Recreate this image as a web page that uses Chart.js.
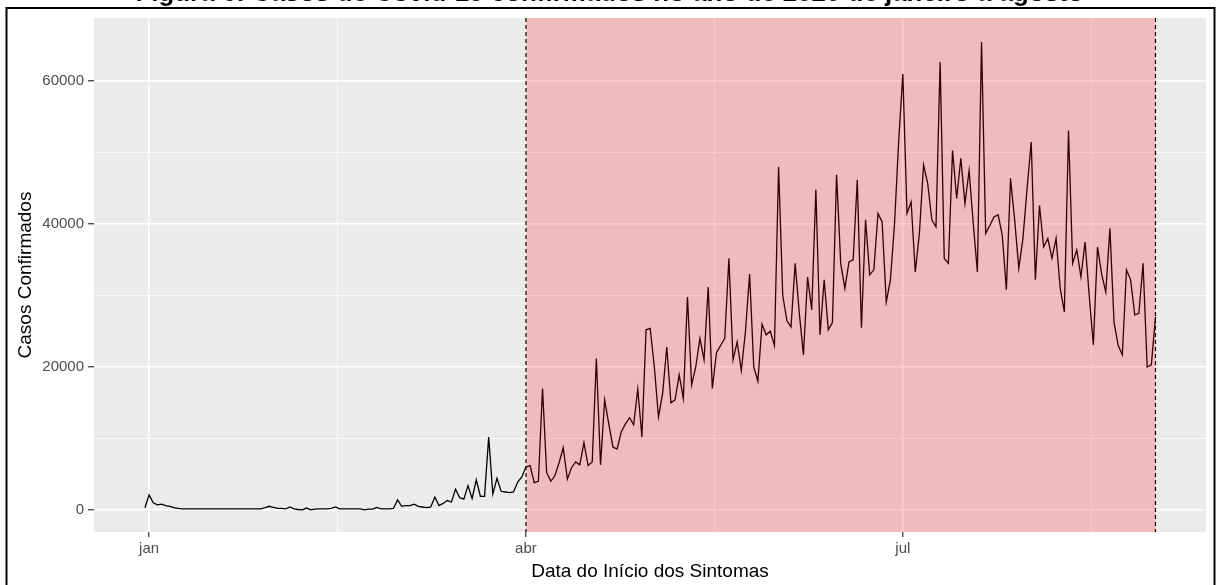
<!DOCTYPE html>
<html>
<head>
<meta charset="utf-8">
<script src="https://cdn.jsdelivr.net/npm/chart.js@4.4.0/dist/chart.umd.min.js"></script>
<style>
  html, body { margin: 0; padding: 0; background: #fff; }
  #wrap { width: 1219px; height: 585px; }
</style>
</head>
<body>
<div id="wrap"><canvas id="myChart" width="1219" height="585"></canvas></div>
<script>
// casos confirmados por dia, de 31 de dezembro de 2019 (dia -1) a 31 de agosto de 2020 (dia 243)
var casosDez = [300];
var casosJan = [2100,1000,700,800,600,500,300,200,150,150,150,150,150,150,150,150,150,150,150,150,150,150,150,150,150,150,150,150,300,500,350];
var casosFev = [200,200,150,400,150,50,0,250,0,100,150,150,150,200,400,150,150,150,150,150,150,0,100,100,350,150,150,150,200];
var casosMar = [1400,500,600,600,800,500,400,300,400,1800,600,900,1300,1100,2900,1700,1500,3400,1600,4200,1900,1900,10200,2200,4400,2600,2500,2400,2500,3900,4600];
var casosAbr = [6000,6200,3800,4000,17000,5200,4000,4800,6600,8700,4300,5900,6700,6300,9400,6200,6700,21200,6300,15400,12000,8800,8500,10900,12000,12900,11900,16900,10200,25200];
var casosMai = [25400,20000,13000,16300,22800,15000,15400,18900,15600,29800,17500,20000,24000,21000,31200,17000,22000,23000,24000,35200,21000,23500,19500,25000,33000,20000,18000,26000,24500,25000,23000];
var casosJun = [48000,30000,26500,25600,34500,27500,21700,32600,28000,44800,24500,32200,25200,26200,46900,34500,31000,34700,35000,46200,25500,40600,32900,33600,41500,40300,29100,32200,40100,51700];
var casosJul = [61000,41500,43100,33300,38700,48300,45700,40600,39600,62700,35200,34500,50300,43600,49200,42900,47500,40100,33300,65500,38700,39800,41000,41300,38500,30800,46400,40600,33800,38000,45000];
var casosAgo = [51500,32200,42600,36800,38000,35200,38000,31000,27700,53100,34500,36400,32600,37500,30000,23100,36800,33000,30500,39400,26200,23000,21700,33600,32200,27300,27500,34500,20000,20300,27000];

var casos = casosDez.concat(casosJan, casosFev, casosMar, casosAbr, casosMai, casosJun, casosJul, casosAgo);
var diaInicial = -1;

// rotulos do eixo x (dia do ano) e periodo destacado
var mesesLabels = ["jan", "abr", "jul"];
var mesesDias = [0, 91, 182];
var mesesMenores = [45.5, 136.5, 227.5];
var periodo = [91, 243];
var yTicks = [0, 10000, 20000, 30000, 40000, 50000, 60000];

var pontos = casos.map(function (v, i) { return {x: i + diaInicial, y: v}; });

var fonte = "'Liberation Sans', Arial, sans-serif";
var titulo = "Figura 6: Casos de Covid-19 confirmados no ano de 2020 de janeiro a agosto";

var painel = {
  id: "painel",
  beforeDraw: function (chart) {
    var ctx = chart.ctx, a = chart.chartArea;
    ctx.save();
    ctx.fillStyle = "#fff";
    ctx.fillRect(0, 0, chart.width, chart.height);
    ctx.fillStyle = "#EBEBEB";
    ctx.fillRect(a.left, a.top, a.right - a.left, a.bottom - a.top);
    ctx.restore();
  },
  afterDatasetsDraw: function (chart) {
    var ctx = chart.ctx, a = chart.chartArea, xs = chart.scales.x;
    var x1 = xs.getPixelForValue(periodo[0]);
    var x2 = xs.getPixelForValue(periodo[1]);
    ctx.save();
    ctx.fillStyle = "rgba(255,0,0,0.2)";
    ctx.fillRect(x1, a.top, x2 - x1, a.bottom - a.top);
    ctx.strokeStyle = "#000";
    ctx.lineWidth = 1.2;
    ctx.setLineDash([4, 3]);
    [x1, x2].forEach(function (x) {
      ctx.beginPath();
      ctx.moveTo(x, a.top);
      ctx.lineTo(x, a.bottom);
      ctx.stroke();
    });
    ctx.restore();
  },
  afterDraw: function (chart) {
    var ctx = chart.ctx;
    ctx.save();
    // titulo cortado no topo
    var size = 22;
    ctx.font = "bold " + size + "px " + fonte;
    var w = ctx.measureText(titulo).width;
    size = size * 950 / w;
    ctx.font = "bold " + size.toFixed(1) + "px " + fonte;
    ctx.fillStyle = "#000";
    ctx.textAlign = "center";
    ctx.textBaseline = "alphabetic";
    ctx.fillText(titulo, 609.5, 0.5);
    // moldura
    ctx.strokeStyle = "#000";
    ctx.lineWidth = 2;
    ctx.strokeRect(6.5, 8, 1208, 600);
    ctx.restore();
  }
};

new Chart("myChart", {
  type: "line",
  data: {
    datasets: [{
      data: pontos,
      borderColor: "#000",
      borderWidth: 1.3,
      pointRadius: 0,
      tension: 0,
      fill: false
    }]
  },
  options: {
    responsive: false,
    animation: false,
    parsing: false,
    layout: {padding: {left: 0, right: 13, top: 18, bottom: 0}},
    plugins: {legend: {display: false}, tooltip: {enabled: false}},
    scales: {
      x: {
        type: "linear",
        min: -13.3,
        max: 255.2,
        afterBuildTicks: function (scale) {
          var t = [];
          mesesDias.forEach(function (d, i) {
            t.push({value: d});
            if (i < mesesMenores.length) t.push({value: mesesMenores[i]});
          });
          scale.ticks = t;
        },
        afterFit: function (scale) { scale.height = 53; },
        ticks: {
          autoSkip: false,
          maxRotation: 0,
          padding: 3,
          color: "#4D4D4D",
          font: {family: fonte, size: 15},
          callback: function (value) {
            var i = mesesDias.indexOf(value);
            return i >= 0 ? mesesLabels[i] : "";
          }
        },
        grid: {
          color: "#fff",
          lineWidth: function (c) { return mesesDias.indexOf(c.tick.value) >= 0 ? 1.5 : 0.8; },
          tickColor: function (c) { return mesesDias.indexOf(c.tick.value) >= 0 ? "#333" : "rgba(0,0,0,0)"; },
          tickWidth: 1.2,
          tickLength: 5
        },
        border: {display: false},
        title: {
          display: true,
          text: "Data do Início dos Sintomas",
          color: "#000",
          font: {family: fonte, size: 19},
          padding: {top: 0, bottom: 2}
        }
      },
      y: {
        min: -3100,
        max: 68850,
        afterBuildTicks: function (scale) {
          scale.ticks = yTicks.map(function (v) { return {value: v}; });
        },
        afterFit: function (scale) { scale.width = 94; },
        ticks: {
          padding: 4,
          color: "#4D4D4D",
          font: {family: fonte, size: 15},
          callback: function (value) { return value % 20000 === 0 ? String(value) : ""; }
        },
        grid: {
          color: "#fff",
          lineWidth: function (c) { return c.tick.value % 20000 === 0 ? 1.5 : 0.8; },
          tickColor: function (c) { return c.tick.value % 20000 === 0 ? "#333" : "rgba(0,0,0,0)"; },
          tickWidth: 1.2,
          tickLength: 6
        },
        border: {display: false},
        title: {
          display: true,
          text: "Casos Confirmados",
          color: "#000",
          font: {family: fonte, size: 19},
          padding: {top: 14.6, bottom: 0}
        }
      }
    }
  },
  plugins: [painel]
});
</script>
</body>
</html>
